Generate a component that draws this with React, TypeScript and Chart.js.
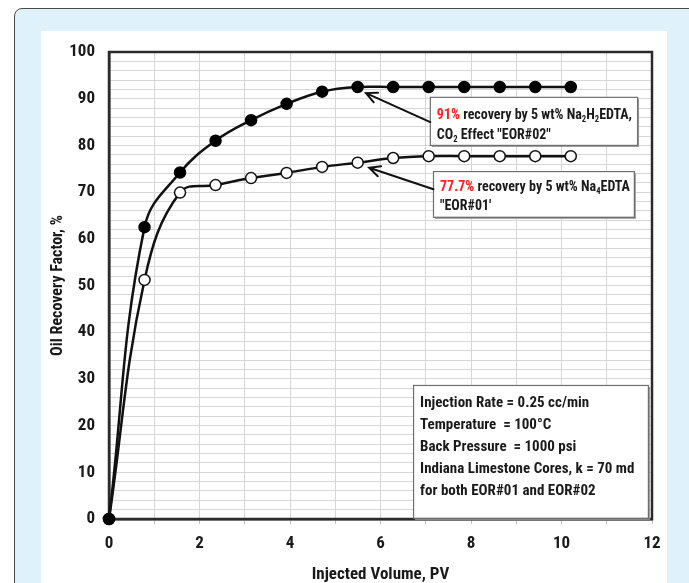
import React, { useEffect, useRef } from 'react';
import { Chart, registerables } from 'chart.js';

Chart.register(...registerables);

// ---------- data ----------
const injectedPV = [0, 0.785, 1.57, 2.355, 3.14, 3.925, 4.71, 5.495, 6.28, 7.065, 7.85, 8.635, 9.42, 10.205];
const eor02Recovery = [0, 62.5, 74.2, 81.0, 85.4, 88.9, 91.5, 92.5, 92.5, 92.5, 92.5, 92.5, 92.5, 92.5];
const eor01Recovery = [0, 51.2, 69.9, 71.5, 73.0, 74.1, 75.4, 76.3, 77.3, 77.7, 77.7, 77.7, 77.7, 77.7];
const xTickLabels = ['0', '2', '4', '6', '8', '10', '12'];
const yTickLabels = ['0', '10', '20', '30', '40', '50', '60', '70', '80', '90', '100'];
const xTitle = 'Injected Volume, PV';
const yTitle = 'Oil Recovery Factor, %';
const infoLines = [
  'Injection Rate = 0.25 cc/min',
  'Temperature  = 100\u00B0C',
  'Back Pressure  = 1000 psi',
  'Indiana Limestone Cores, k = 70 md',
  'for both EOR#01 and EOR#02',
];
type Seg = { t: string; red?: boolean; sub?: boolean };
const note02Lines: Seg[][] = [
  [{ t: '91%', red: true }, { t: ' recovery by 5 wt% Na' }, { t: '2', sub: true }, { t: 'H' }, { t: '2', sub: true }, { t: 'EDTA,' }],
  [{ t: 'CO' }, { t: '2', sub: true }, { t: ' Effect "EOR#02"' }],
];
const note01Lines: Seg[][] = [
  [{ t: '77.7%', red: true }, { t: ' recovery by 5 wt% Na' }, { t: '4', sub: true }, { t: 'EDTA' }],
  [{ t: '"EOR#01\'' }],
];

const FONT = '"Liberation Sans Narrow", "Roboto Condensed", Roboto, "Noto Sans", sans-serif';

function drawRich(ctx: CanvasRenderingContext2D, x: number, y: number, segs: Seg[], size: number) {
  let cx = x;
  for (const s of segs) {
    const fs = s.sub ? size * 0.62 : size;
    ctx.font = `bold ${fs}px ${FONT}`;
    ctx.fillStyle = s.red ? '#ff2020' : '#1a1a1a';
    ctx.textBaseline = 'alphabetic';
    ctx.textAlign = 'left';
    ctx.fillText(s.t, cx, s.sub ? y + size * 0.22 : y);
    cx += ctx.measureText(s.t).width;
  }
}

function box(ctx: CanvasRenderingContext2D, l: number, t: number, r: number, b: number) {
  ctx.save();
  ctx.fillStyle = '#9a9a9a';
  ctx.fillRect(l + 2, t + 2, r - l, b - t);
  ctx.fillStyle = '#ffffff';
  ctx.fillRect(l, t, r - l, b - t);
  ctx.strokeStyle = '#6f6f6f';
  ctx.lineWidth = 1.2;
  ctx.strokeRect(l + 0.5, t + 0.5, r - l, b - t);
  ctx.restore();
}

function arrow(ctx: CanvasRenderingContext2D, x0: number, y0: number, x1: number, y1: number) {
  ctx.save();
  ctx.strokeStyle = '#111';
  ctx.lineWidth = 2;
  ctx.lineCap = 'round';
  ctx.beginPath();
  ctx.moveTo(x0, y0);
  ctx.lineTo(x1, y1);
  const ang = Math.atan2(y0 - y1, x0 - x1);
  const len = 12;
  const spread = 0.45;
  ctx.moveTo(x1 + len * Math.cos(ang + spread), y1 + len * Math.sin(ang + spread));
  ctx.lineTo(x1, y1);
  ctx.lineTo(x1 + len * Math.cos(ang - spread), y1 + len * Math.sin(ang - spread));
  ctx.stroke();
  ctx.restore();
}

const framePlugin = {
  id: 'frameBorder',
  beforeDatasetsDraw(chart: any) {
    const { ctx, chartArea: a } = chart;
    ctx.save();
    ctx.strokeStyle = '#2b2b2b';
    ctx.lineWidth = 2.5;
    ctx.strokeRect(a.left, a.top, a.right - a.left, a.bottom - a.top);
    ctx.restore();
  },
};

const notesPlugin = {
  id: 'notes',
  afterDatasetsDraw(chart: any) {
    const { ctx } = chart;
    const xs = chart.scales.x;
    const ys = chart.scales.y;
    const X = (v: number) => xs.getPixelForValue(v);
    const Y = (v: number) => ys.getPixelForValue(v);

    // info box
    box(ctx, X(6.72), Y(28.7), X(11.91), Y(0.25));
    ctx.save();
    ctx.font = `bold 15px ${FONT}`;
    ctx.fillStyle = '#1a1a1a';
    ctx.textBaseline = 'middle';
    ctx.textAlign = 'left';
    infoLines.forEach((line, i) => {
      ctx.fillText(line, X(6.72) + 7, Y(28.7) + 18 + i * 22);
    });
    ctx.restore();

    // EOR#02 note
    box(ctx, X(7.09), Y(90.4), X(11.67), Y(80.1));
    note02Lines.forEach((segs, i) => drawRich(ctx, X(7.09) + 7, Y(90.4) + 22 + i * 20, segs, 14));
    arrow(ctx, X(7.1), Y(85.0), X(5.68), Y(91.2));

    // EOR#01 note
    box(ctx, X(7.16), Y(74.5), X(11.6), Y(64.7));
    note01Lines.forEach((segs, i) => drawRich(ctx, X(7.16) + 7, Y(74.5) + 20 + i * 19, segs, 14));
    arrow(ctx, X(7.17), Y(70.6), X(5.75), Y(75.2));
  },
};

export default function App() {
  const ref = useRef<HTMLCanvasElement>(null);

  useEffect(() => {
    if (!ref.current) return;
    const mk = (ys: number[]) => injectedPV.map((x, i) => ({ x, y: ys[i] }));
    const chart = new Chart(ref.current, {
      type: 'line',
      data: {
        datasets: [
          {
            label: 'EOR#02',
            data: mk(eor02Recovery),
            borderColor: '#111',
            borderWidth: 2.5,
            backgroundColor: '#111',
            pointBackgroundColor: '#000',
            pointBorderColor: '#000',
            pointBorderWidth: 1.5,
            pointRadius: 5.5,
            tension: 0.4,
            clip: 10,
          },
          {
            label: 'EOR#01',
            data: mk(eor01Recovery),
            borderColor: '#111',
            borderWidth: 2.5,
            backgroundColor: '#fff',
            pointBackgroundColor: '#fff',
            pointBorderColor: '#111',
            pointBorderWidth: 1.5,
            pointRadius: 5.5,
            tension: 0.4,
            clip: 10,
          },
        ],
      },
      options: {
        responsive: false,
        animation: false,
        devicePixelRatio: 1,
        layout: { padding: { left: 40, right: 37, top: 52, bottom: 0 } },
        plugins: { legend: { display: false }, tooltip: { enabled: false } },
        scales: {
          x: {
            type: 'linear',
            min: 0,
            max: 12,
            afterFit: (s: any) => { s.height = 64; },
            grid: { color: '#d6d6d6', lineWidth: 1, drawTicks: true, tickLength: 5, tickColor: '#bdbdbd' },
            border: { color: '#2b2b2b', width: 2.5 },
            ticks: {
              stepSize: 1,
              autoSkip: false,
              maxRotation: 0,
              padding: 10,
              color: '#1a1a1a',
              font: { family: FONT, size: 17, weight: 'bold' },
              callback: (v: any) => (xTickLabels.includes(String(v)) ? String(v) : ''),
            },
            title: {
              display: true,
              text: xTitle,
              color: '#1a1a1a',
              font: { family: FONT, size: 17, weight: 'bold', lineHeight: 1 },
              padding: { top: 0, bottom: 0 },
            },
          },
          y: {
            type: 'linear',
            min: 0,
            max: 100,
            afterFit: (s: any) => { s.width = 69; },
            grid: { color: '#d6d6d6', lineWidth: 1, drawTicks: false },
            border: { color: '#2b2b2b', width: 2.5 },
            ticks: {
              stepSize: 2,
              autoSkip: false,
              padding: 14,
              color: '#1a1a1a',
              font: { family: FONT, size: 17, weight: 'bold' },
              callback: (v: any) => (yTickLabels.includes(String(v)) ? String(v) : ''),
            },
            title: {
              display: true,
              text: yTitle,
              color: '#1a1a1a',
              font: { family: FONT, size: 16, weight: 'bold', lineHeight: 1 },
              padding: { top: 10, bottom: 0 },
            },
          },
        },
      },
      plugins: [framePlugin, notesPlugin],
    } as any);
    return () => chart.destroy();
  }, []);

  return (
    <div style={{ position: 'fixed', left: 0, top: 0, width: 689, height: 583, overflow: 'hidden', background: '#fff' }}>
      <div
        style={{
          position: 'absolute', left: 14, top: 8, width: 700, height: 620,
          border: '1.5px solid #4a4a4a', borderRadius: 8, background: '#dff1fb', boxSizing: 'border-box',
        }}
      />
      <div style={{ position: 'absolute', left: 41, top: 31, width: 626, height: 560, background: '#fff' }} />
      <canvas ref={ref} width={689} height={583} style={{ position: 'absolute', left: 0, top: 0, width: 689, height: 583 }} />
    </div>
  );
}
